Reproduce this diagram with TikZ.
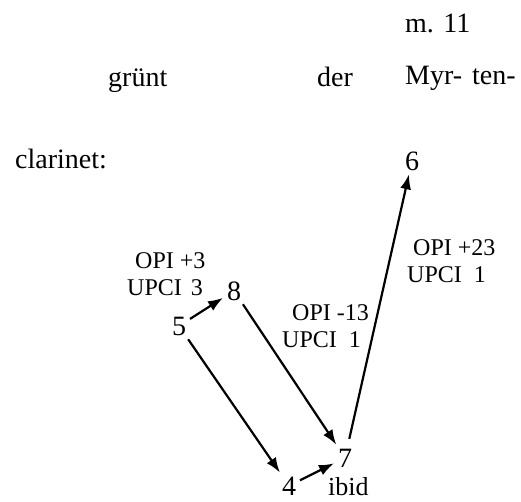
\documentclass[tikz,border=0pt]{standalone}
\usepackage{fontspec}
\setmainfont{Liberation Serif}
\usetikzlibrary{arrows.meta}
\begin{document}
\begin{tikzpicture}[x=1pt, y=-1pt,
	word/.style={anchor=base west, inner sep=0pt, font=\fontsize{28}{30}\selectfont},
	tag/.style={anchor=base west, inner sep=0pt, font=\fontsize{24}{26}\selectfont},
	pc/.style={anchor=base west, inner sep=0pt, outer sep=4pt, font=\fontsize{28}{30}\selectfont},
	move/.style={-{Latex[length=15pt, width=11pt]}, line width=2.2pt}]
		\useasboundingbox (0,0) rectangle (521,501);
		% text lines
		\node[word] (bar) at (405,32) {m. 11};
		\node[word] (w1) at (108,86) {grünt};
		\node[word] (w2) at (317,86) {der};
		\node[word] (w3) at (405,84) {Myr-};
		\node[word] (w4) at (472,84) {ten-};
		\node[word] (inst) at (15,168) {clarinet:};
		% pitch classes
		\node[pc] (p6) at (401,170) {6};
		\node[pc] (p8) at (223,300) {8};
		\node[pc] (p5) at (168,335) {5};
		\node[pc] (p7) at (334,467) {7};
		\node[pc] (p4) at (278,495) {4};
		\node[word, font=\fontsize{26}{28}\selectfont] (ibid) at (328,495) {ibid};
		% labels
		\node[tag] (opiA) at (135,268) {OPI +3};
		\node[tag] (upciA) at (127,295) {UPCI\hspace{9pt}3};
		\node[tag] (opiB) at (292,320) {OPI -13};
		\node[tag] (upciB) at (282,347) {UPCI\ \ 1};
		\node[tag] (opiC) at (413,255) {OPI +23};
		\node[tag] (upciC) at (407,282) {UPCI\ \ 1};
		% moves
		\draw[move] (p5) -- (p8);
		\draw[move] (p5) -- (p4);
		\draw[move] (p8) -- (p7);
		\draw[move] (p4) -- (p7);
		\draw[move, shorten <=6pt] (p7) -- (p6);
\end{tikzpicture}
\end{document}
